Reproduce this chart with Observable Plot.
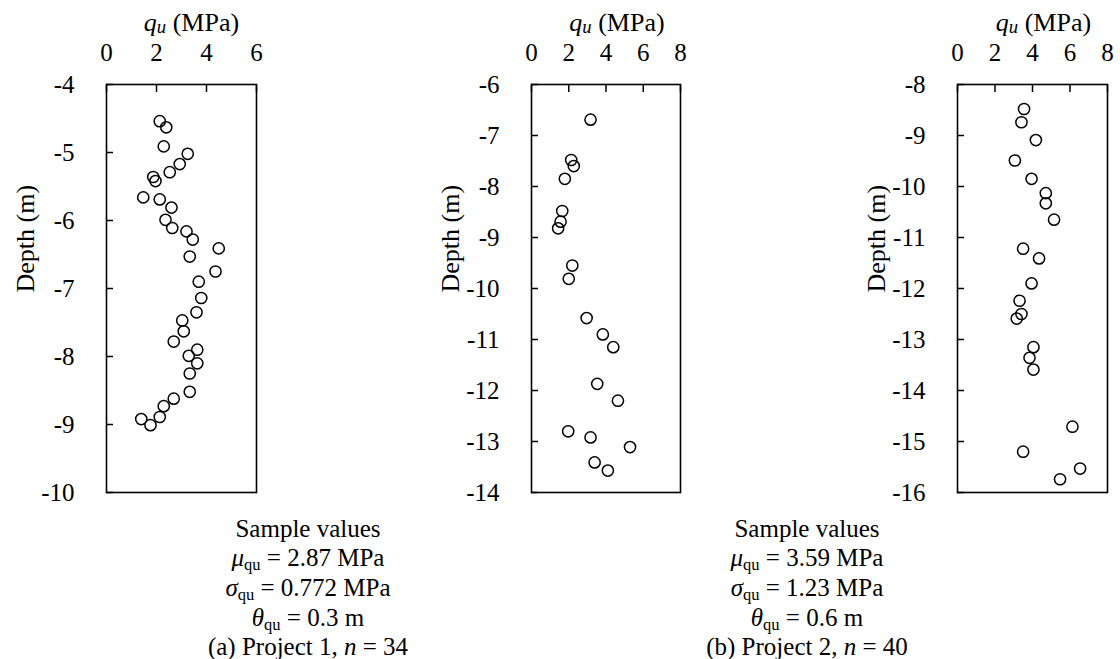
<!DOCTYPE html>
<html><head><meta charset="utf-8">
<script src="https://cdn.jsdelivr.net/npm/d3@7"></script>
<script src="https://cdn.jsdelivr.net/npm/@observablehq/plot@0.6"></script>
<style>
html,body{margin:0;padding:0;background:#fff;}
#root{position:relative;width:1120px;height:659px;overflow:hidden;font-family:"Liberation Serif","Times New Roman",serif;color:#000;}
.panel{position:absolute;top:0;}
.ttl{position:absolute;top:10px;font-size:26px;line-height:26px;white-space:nowrap;transform:translateX(-50%);}
.ttl sub{font-size:0.72em;vertical-align:-0.12em;line-height:0;font-style:italic;}
.stat{position:absolute;font-size:25px;line-height:25px;white-space:nowrap;transform:translateX(-50%);}
.stat sub{font-size:0.66em;vertical-align:-0.22em;line-height:0;}
</style></head>
<body><div id="root"></div>
<script>
// ---- data ----
const qu1 = [2.13,2.39,2.29,3.25,2.93,2.53,1.87,1.96,1.47,2.13,2.60,2.36,2.63,3.20,3.45,4.49,3.33,4.36,3.69,3.79,3.60,3.03,3.09,2.69,3.63,3.29,3.63,3.33,3.33,2.69,2.29,2.13,1.39,1.76];
const depth1 = [-4.54,-4.63,-4.91,-5.02,-5.17,-5.29,-5.36,-5.42,-5.66,-5.69,-5.81,-5.99,-6.11,-6.16,-6.28,-6.41,-6.53,-6.75,-6.90,-7.14,-7.35,-7.47,-7.63,-7.78,-7.90,-7.99,-8.10,-8.25,-8.52,-8.62,-8.73,-8.89,-8.92,-9.01];
const qu2 = [3.17,2.13,2.27,1.79,1.65,1.56,1.43,2.19,2.00,2.96,3.83,4.39,3.53,4.64,1.97,3.17,5.29,3.39,4.10];
const depth2 = [-6.69,-7.48,-7.60,-7.85,-8.48,-8.69,-8.82,-9.55,-9.81,-10.58,-10.90,-11.15,-11.87,-12.20,-12.80,-12.92,-13.11,-13.41,-13.57];
const qu3 = [3.55,3.41,4.18,3.06,3.95,4.71,4.71,5.15,3.50,4.35,3.95,3.31,3.41,3.16,4.05,3.84,4.05,6.13,3.50,6.54,5.47];
const depth3 = [-8.48,-8.74,-9.09,-9.49,-9.85,-10.13,-10.33,-10.65,-11.22,-11.41,-11.90,-12.24,-12.50,-12.59,-13.15,-13.36,-13.59,-14.71,-15.20,-15.53,-15.74];
const xTicks1 = [0,2,4,6];
const xTicks2 = [0,2,4,6,8];
const xTicks3 = [0,2,4,6,8];
const yTicks1 = [-4,-5,-6,-7,-8,-9,-10];
const yTicks2 = [-6,-7,-8,-9,-10,-11,-12,-13,-14];
const yTicks3 = [-8,-9,-10,-11,-12,-13,-14,-15,-16];
const yLabel = "Depth (m)";
const projectLabels = ["(a) Project 1", "(b) Project 2"];
const nValues = [34, 40];
const muValues = ["2.87", "3.59"];
const sigmaValues = ["0.772", "1.23"];
const thetaValues = ["0.3", "0.6"];

// ---- drawing ----
const root = document.getElementById("root");
const FONT = '"Liberation Serif","Times New Roman",serif';

function panel(qu, depth, xTicks, yTicks, frameW, left, titleX) {
  const rows = qu.map((q, i) => ({q, d: depth[i]}));
  const mL = 106, mR = 14, mT = 84, mB = 18, H = 510;
  const svg = Plot.plot({
    width: mL + frameW + mR, height: H,
    marginTop: mT, marginBottom: mB, marginLeft: mL, marginRight: mR,
    style: {fontFamily: FONT, fontSize: "25px", color: "black", background: "transparent", overflow: "visible"},
    x: {domain: [xTicks[0], xTicks[xTicks.length - 1]]},
    y: {domain: [yTicks[yTicks.length - 1], yTicks[0]]},
    marks: [
      Plot.axisX(xTicks, {anchor: "top", tickSize: -7, tickPadding: 31, label: null, tickFormat: d => String(d), strokeWidth: 1.5}),
      Plot.axisY(yTicks, {anchor: "left", tickSize: -7, tickPadding: 39, label: null, tickFormat: d => String(d), strokeWidth: 1.5}),
      Plot.frame({stroke: "black", strokeWidth: 1.6}),
      Plot.text([yLabel], {text: d => d, frameAnchor: "left", rotate: -90, dx: -81, dy: 4, fontSize: 26}),
      Plot.dot(rows, {x: "q", y: "d", r: 5.6, stroke: "black", strokeWidth: 1.5, fill: "none"})
    ]
  });
  svg.classList.add("panel");
  svg.style.left = left + "px";
  root.appendChild(svg);
  const t = document.createElement("div");
  t.className = "ttl";
  t.style.left = titleX + "px";
  t.innerHTML = '<i>q</i><sub>u</sub> (MPa)';
  root.appendChild(t);
}

panel(qu1, depth1, xTicks1, yTicks1, 150, 0, 191.5);
panel(qu2, depth2, xTicks2, yTicks2, 149, 425, 617);
panel(qu3, depth3, xTicks3, yTicks3, 150, 851, 1043.5);

function stats(k, cx) {
  const lines = [
    'Sample values',
    '<i>μ</i><sub>qu</sub> = ' + muValues[k] + ' MPa',
    '<i>σ</i><sub>qu</sub> = ' + sigmaValues[k] + ' MPa',
    '<i>θ</i><sub>qu</sub> = ' + thetaValues[k] + ' m',
    projectLabels[k] + ', <i>n</i> = ' + nValues[k]
  ];
  const tops = [516, 545, 575, 605, 634];
  lines.forEach((h, i) => {
    const d = document.createElement("div");
    d.className = "stat";
    d.style.left = cx + "px";
    d.style.top = tops[i] + "px";
    d.innerHTML = h;
    root.appendChild(d);
  });
}
stats(0, 308);
stats(1, 807);
</script>
</body></html>
